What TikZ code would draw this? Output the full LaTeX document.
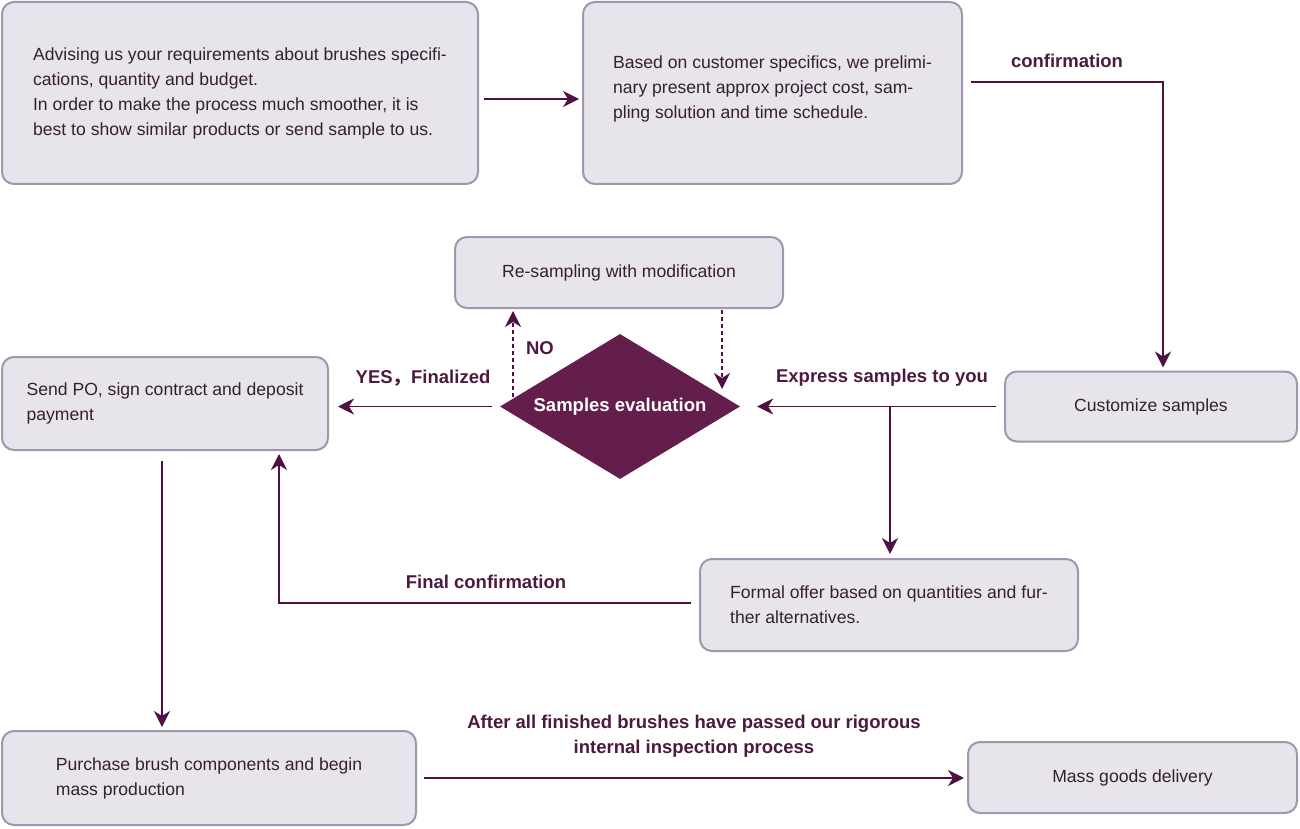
\documentclass[tikz,border=0pt]{standalone}
\usepackage{fontspec}
\setmainfont{Liberation Sans}
\newfontfamily\cjkfont{Noto Sans CJK SC}
\usetikzlibrary{arrows.meta,shapes.geometric,calc}
\definecolor{boxfill}{HTML}{E7E4EC}
\definecolor{boxline}{HTML}{9D98AE}
\definecolor{txt}{HTML}{36202F}
\definecolor{lbl}{HTML}{4B1A3E}
\definecolor{arr}{HTML}{4F1142}
\definecolor{dia}{HTML}{641E4C}
\tikzset{
  box/.style={draw=boxline, line width=2pt, fill=boxfill, rounded corners=12pt,
    inner sep=0pt, text=txt, align=left, font=\fontsize{17.6}{25}\selectfont},
  conn/.style={draw=arr, line width=1.6pt, -{Stealth[length=16pt,width=16pt,inset=5pt]}},
  dconn/.style={conn, dash pattern=on 4pt off 3pt, line width=1.3pt},
  lab/.style={text=lbl, font=\fontsize{18.5}{25}\selectfont\bfseries, inner sep=0pt, align=center},
}
\begin{document}
\begin{tikzpicture}[x=1pt,y=-1pt]
\useasboundingbox (0,0) rectangle (1300,829);
% boxes
\node[box, minimum width=476pt, minimum height=182pt] (b1) at (240,93)
  {Advising us your requirements about brushes specifi-\\cations, quantity and budget.\\In order to make the process much smoother, it is\\best to show similar products or send sample to us.};
\node[box, minimum width=379pt, minimum height=182pt] (b2) at (772.5,93)
  {Based on customer specifics, we prelimi-\\nary present approx project cost, sam-\\pling solution and time schedule.\\[-13pt]};
\node[box, minimum width=292pt, minimum height=70pt] (cust) at (1151,406.5) {Customize samples};
\node[box, minimum width=378pt, minimum height=92pt] (offer) at (889,605)
  {Formal offer based on quantities and fur-\\ther alternatives.};
\node[box, minimum width=328pt, minimum height=71pt] (resamp) at (619,272.5) {Re-sampling with modification};
\node[box, minimum width=326pt, minimum height=93pt] (po) at (165,403.5)
  {Send PO, sign contract and deposit\\payment};
\node[box, minimum width=414pt, minimum height=94pt] (buy) at (209,778)
  {Purchase brush components and begin\\mass production};
\node[box, minimum width=329pt, minimum height=71pt] (mass) at (1132.5,777.5) {Mass goods delivery};
\node[diamond, fill=dia, minimum width=240pt, minimum height=145pt, inner sep=0pt, aspect=1.66,
  text=white, font=\fontsize{18.5}{20}\selectfont\bfseries] (eval) at (620,406.5) {Samples evaluation};
% connectors
\draw[conn] ($(b1.east)+(5,6)$) -- ($(b2.west)+(-3,6)$);
\coordinate (c1) at ($(b2.east)+(8,-11)$);
\draw[conn] (c1) -- (c1 -| {$(cust.north)+(12,0)$}) -- ($(cust.north)+(12,-3)$);
\node[lab] (lconf) at (1067,61) {confirmation};
\draw[conn] ($(cust.west)+(-8,0)$) -- ($(eval.east)+(17,0)$);
\node[lab] (lexp) at (882,378) {Express samples to you};
\coordinate (c2) at (890,406.5);
\draw[conn] (c2) -- ($(offer.north)+(1,-4)$);
\coordinate (c3) at ($(offer.west)+(-8,-2)$);
\draw[conn] (c3) -- (c3 -| {$(po.south)+(114,0)$}) -- ($(po.south)+(114,3)$);
\node[lab] (lfin) at (486,582) {Final confirmation};
\draw[conn] ($(eval.west)+(-8,0)$) -- ($(po.east)+(9,3)$);
\node[lab] (lyes) at (423,378) {YES{\cjkfont ，}Finalized};
\coordinate (c4) at (513,397);
\draw[dconn] (c4) -- (c4 |- {$(resamp.south)+(0,2)$});
\node[lab] (lno) at (540,348) {NO};
\coordinate (c5) at (722,310);
\draw[dconn] (c5) -- (722,389);
\draw[conn] ($(po.south)+(-3,10)$) -- ($(buy.north)+(-47,-3)$);
\draw[conn] ($(buy.east)+(7,0)$) -- ($(mass.west)+(-3,0.5)$);
\node[lab] (lafter) at (694,736) {After all finished brushes have passed our rigorous\\internal inspection process};
\end{tikzpicture}
\end{document}
